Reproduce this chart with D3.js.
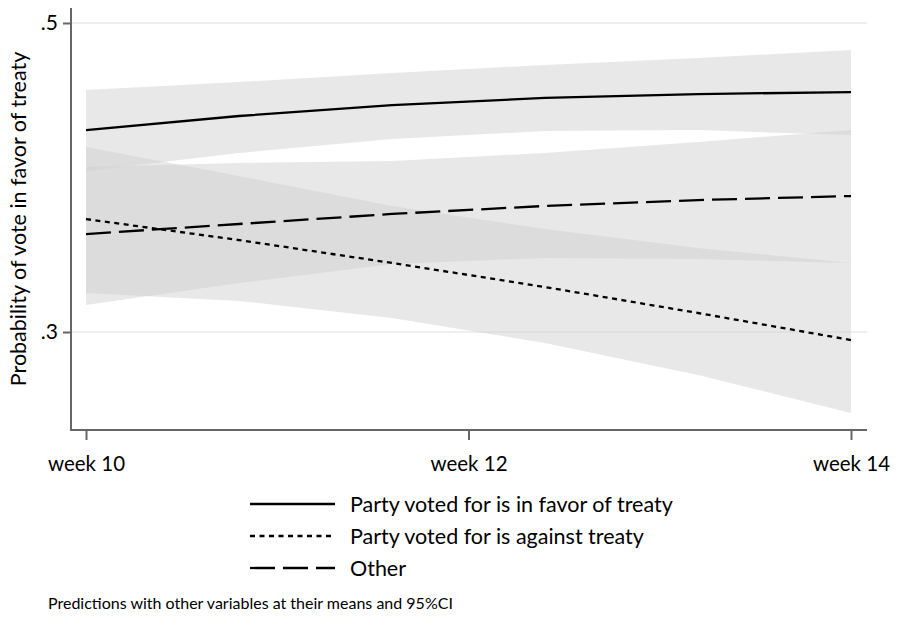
<!DOCTYPE html>
<html>
<head>
<meta charset="utf-8">
<script src="https://cdn.jsdelivr.net/npm/d3@7"></script>
<style>
  html, body { margin: 0; padding: 0; background: #fff; }
  svg { display: block; font-family: Lato, "Open Sans", sans-serif; }
</style>
</head>
<body>
<svg id="chart" width="898" height="619"></svg>
<script>
// Predicted probabilities by week, with 95% confidence bounds
const weeks = [10, 10.8, 11.6, 12.4, 13.2, 14];

const inFavorEst   = [0.4307, 0.4398, 0.4469, 0.4515, 0.4540, 0.4553];
const inFavorUpper = [0.4566, 0.4618, 0.4676, 0.4728, 0.4773, 0.4825];
const inFavorLower = [0.4042, 0.4159, 0.4249, 0.4301, 0.4307, 0.4275];

const againstEst   = [0.3731, 0.3595, 0.3447, 0.3291, 0.3123, 0.2948];
const againstUpper = [0.4197, 0.4010, 0.3816, 0.3667, 0.3544, 0.3447];
const againstLower = [0.3252, 0.3201, 0.3091, 0.2929, 0.2722, 0.2476];

const otherEst   = [0.3634, 0.3699, 0.3764, 0.3816, 0.3854, 0.3880];
const otherUpper = [0.4068, 0.4094, 0.4107, 0.4159, 0.4230, 0.4307];
const otherLower = [0.3175, 0.3317, 0.3440, 0.3479, 0.3472, 0.3447];

const seriesNames = [
  "Party voted for is in favor of treaty",
  "Party voted for is against treaty",
  "Other"
];
const xTickValues = [10, 12, 14];
const xTickLabels = ["week 10", "week 12", "week 14"];
const yTickValues = [0.3, 0.5];
const yTickLabels = [".3", ".5"];
const yRange = [0.2366, 0.5097];

const series = [
  { name: seriesNames[0], est: inFavorEst, lo: inFavorLower, hi: inFavorUpper, dash: null },
  { name: seriesNames[1], est: againstEst, lo: againstLower, hi: againstUpper, dash: "5,4.5" },
  { name: seriesNames[2], est: otherEst, lo: otherLower, hi: otherUpper, dash: "25,8" }
];

const svg = d3.select("#chart");
const x = d3.scaleLinear().domain([10, 14]).range([86, 851]);
const y = d3.scaleLinear().domain([0.3, 0.5]).range([332, 23]);
const axisLeftX = 71, axisBottomY = y(yRange[0]), axisRightX = 867;

// Gridlines
svg.append("g").selectAll("line").data(yTickValues).join("line")
  .attr("x1", axisLeftX).attr("x2", axisRightX)
  .attr("y1", d => y(d)).attr("y2", d => y(d))
  .attr("stroke", "#eaeaea").attr("stroke-width", 1.5);

// Confidence bands
const area = d3.area()
  .x((d, i) => x(weeks[i]))
  .y0(d => y(d[0])).y1(d => y(d[1]));
svg.append("g").selectAll("path").data(series).join("path")
  .attr("d", s => area(s.lo.map((v, i) => [v, s.hi[i]])))
  .attr("fill", "#cfcfcf").attr("fill-opacity", 0.48);

// Prediction lines
const line = d3.line().x((d, i) => x(weeks[i])).y(d => y(d));
svg.append("g").selectAll("path").data(series).join("path")
  .attr("d", s => line(s.est))
  .attr("fill", "none").attr("stroke", "#000").attr("stroke-width", 2.3)
  .attr("stroke-dasharray", s => s.dash);

// Y axis
const yAxis = d3.axisLeft(y).tickValues(yTickValues)
  .tickFormat((d, i) => yTickLabels[i]).tickSize(8).tickPadding(5);
const gy = svg.append("g").attr("transform", `translate(${axisLeftX},0)`).call(yAxis);
gy.select(".domain").remove();
gy.append("line").attr("x1", 0).attr("x2", 0)
  .attr("y1", y(yRange[1])).attr("y2", axisBottomY + 1)
  .attr("stroke", "#666").attr("stroke-width", 2);
gy.selectAll(".tick line").attr("stroke", "#666").attr("stroke-width", 2);
gy.selectAll(".tick text").attr("font-size", 21).attr("fill", "#000")
  .attr("font-family", "Lato, sans-serif");

// X axis
const xAxis = d3.axisBottom(x).tickValues(xTickValues)
  .tickFormat((d, i) => xTickLabels[i]).tickSize(10).tickPadding(17);
const gx = svg.append("g").attr("transform", `translate(0,${axisBottomY})`).call(xAxis);
gx.select(".domain").remove();
gx.append("line").attr("x1", axisLeftX - 1).attr("x2", axisRightX)
  .attr("y1", 0).attr("y2", 0).attr("stroke", "#666").attr("stroke-width", 2);
gx.selectAll(".tick line").attr("stroke", "#666").attr("stroke-width", 2);
gx.selectAll(".tick text").attr("font-size", 20.5).attr("fill", "#000")
  .attr("font-family", "Lato, sans-serif");

// Y axis title
svg.append("text")
  .attr("transform", `translate(26,${(y(yRange[1]) + axisBottomY) / 2}) rotate(-90)`)
  .attr("text-anchor", "middle").attr("font-size", 21.5).attr("fill", "#000")
  .text("Probability of vote in favor of treaty");

// Legend
const legend = svg.append("g");
const rows = legend.selectAll("g").data(series).join("g")
  .attr("transform", (d, i) => `translate(250,${504 + i * 32})`);
rows.append("line").attr("x1", 0).attr("x2", 85)
  .attr("stroke", "#000").attr("stroke-width", 2.3)
  .attr("stroke-dasharray", s => s.dash);
rows.append("text").attr("x", 100).attr("dy", "0.35em")
  .attr("font-size", 21.5).attr("fill", "#000").text(s => s.name);

// Note
svg.append("text").attr("x", 48).attr("y", 609)
  .attr("font-size", 16).attr("fill", "#000")
  .text("Predictions with other variables at their means and 95%CI");
</script>
</body>
</html>
